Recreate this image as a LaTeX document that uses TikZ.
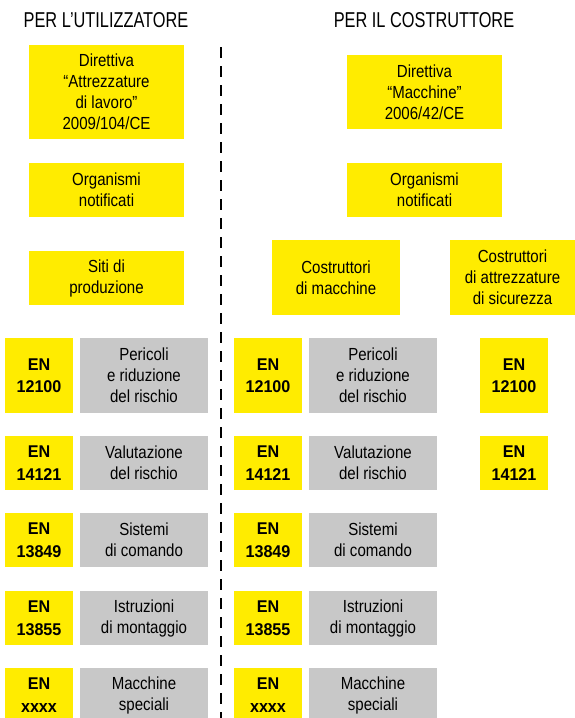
\documentclass[tikz,border=0pt]{standalone}
\usepackage{fontspec}
\setmainfont{Liberation Sans}[FakeStretch=0.86]
\newfontfamily\titlefont{Liberation Sans}[FakeStretch=0.76]
\newfontfamily\enfont{Liberation Sans}[FakeStretch=0.95]
\definecolor{ybox}{RGB}{255,236,0}
\definecolor{gbox}{RGB}{200,200,200}
\begin{document}
\begin{tikzpicture}[x=1pt,y=-1pt,
  base/.style={rectangle,inner sep=0pt,align=center,font=\fontsize{17.5}{21}\selectfont},
  ybox/.style={base,fill=ybox},
  gbox/.style={base,fill=gbox},
  enbox/.style={ybox,minimum width=68pt,font=\fontsize{17}{22.5}\enfont\bfseries},
  descbox/.style={gbox,minimum width=128pt},
  titletext/.style={inner sep=0pt,font=\fontsize{21.5}{24}\titlefont},
  divider/.style={line width=2.6pt,dash pattern=on 11pt off 8pt}]
\useasboundingbox (0,0) rectangle (575,718);
% titles
\node[titletext] (tl) at (106,20) {PER L’UTILIZZATORE};
\node[titletext] (tr) at (424,20) {PER IL COSTRUTTORE};
% divider
\coordinate (dtop) at (221,47);
\coordinate (dbot) at (221,720);
\draw[divider] (dtop) -- (dbot);
% left column
\node[ybox,minimum width=155pt,minimum height=94pt] (ldir) at (106.5,92) {Direttiva\\“Attrezzature\\di lavoro”\\2009/104/CE};
\node[ybox,minimum width=155pt,minimum height=54pt] (lorg) at (106.5,190) {Organismi\\notificati};
\node[ybox,minimum width=155pt,minimum height=54pt] (lsiti) at (106.5,278) {Siti di\\produzione};
% right column
\node[ybox,minimum width=155pt,minimum height=74pt] (rdir) at (424.5,92) {Direttiva\\“Macchine”\\2006/42/CE};
\node[ybox,minimum width=155pt,minimum height=54pt] (rorg) at (424.5,190) {Organismi\\notificati};
\node[ybox,minimum width=128pt,minimum height=75pt] (cmac) at (336,277.5) {Costruttori\\di macchine};
\node[ybox,minimum width=125pt,minimum height=75pt] (catt) at (512.5,277.5) {Costruttori\\di attrezzature\\di sicurezza};
% rows left
\node[enbox,minimum height=75pt] (l1) at (39,375.5) {EN\\12100};
\node[descbox,minimum height=75pt] (l1d) at (144,375.5) {Pericoli\\e riduzione\\del rischio};
\node[enbox,minimum height=54pt] (l2) at (39,463) {EN\\14121};
\node[descbox,minimum height=54pt] (l2d) at (144,463) {Valutazione\\del rischio};
\node[enbox,minimum height=54pt] (l3) at (39,540) {EN\\13849};
\node[descbox,minimum height=54pt] (l3d) at (144,540) {Sistemi\\di comando};
\node[enbox,minimum height=54pt] (l4) at (39,618) {EN\\13855};
\node[descbox,minimum height=54pt] (l4d) at (144,618) {Istruzioni\\di montaggio};
\node[enbox,minimum height=54pt] (l5) at (39,695) {EN\\xxxx};
\node[descbox,minimum height=54pt] (l5d) at (144,695) {Macchine\\speciali};
% rows right
\node[enbox,minimum height=75pt] (r1) at (268,375.5) {EN\\12100};
\node[descbox,minimum height=75pt] (r1d) at (373,375.5) {Pericoli\\e riduzione\\del rischio};
\node[enbox,minimum height=54pt] (r2) at (268,463) {EN\\14121};
\node[descbox,minimum height=54pt] (r2d) at (373,463) {Valutazione\\del rischio};
\node[enbox,minimum height=54pt] (r3) at (268,540) {EN\\13849};
\node[descbox,minimum height=54pt] (r3d) at (373,540) {Sistemi\\di comando};
\node[enbox,minimum height=54pt] (r4) at (268,618) {EN\\13855};
\node[descbox,minimum height=54pt] (r4d) at (373,618) {Istruzioni\\di montaggio};
\node[enbox,minimum height=54pt] (r5) at (268,695) {EN\\xxxx};
\node[descbox,minimum height=54pt] (r5d) at (373,695) {Macchine\\speciali};
% far right
\node[enbox,minimum height=75pt] (f1) at (514,375.5) {EN\\12100};
\node[enbox,minimum height=54pt] (f2) at (514,463) {EN\\14121};
\end{tikzpicture}
\end{document}
